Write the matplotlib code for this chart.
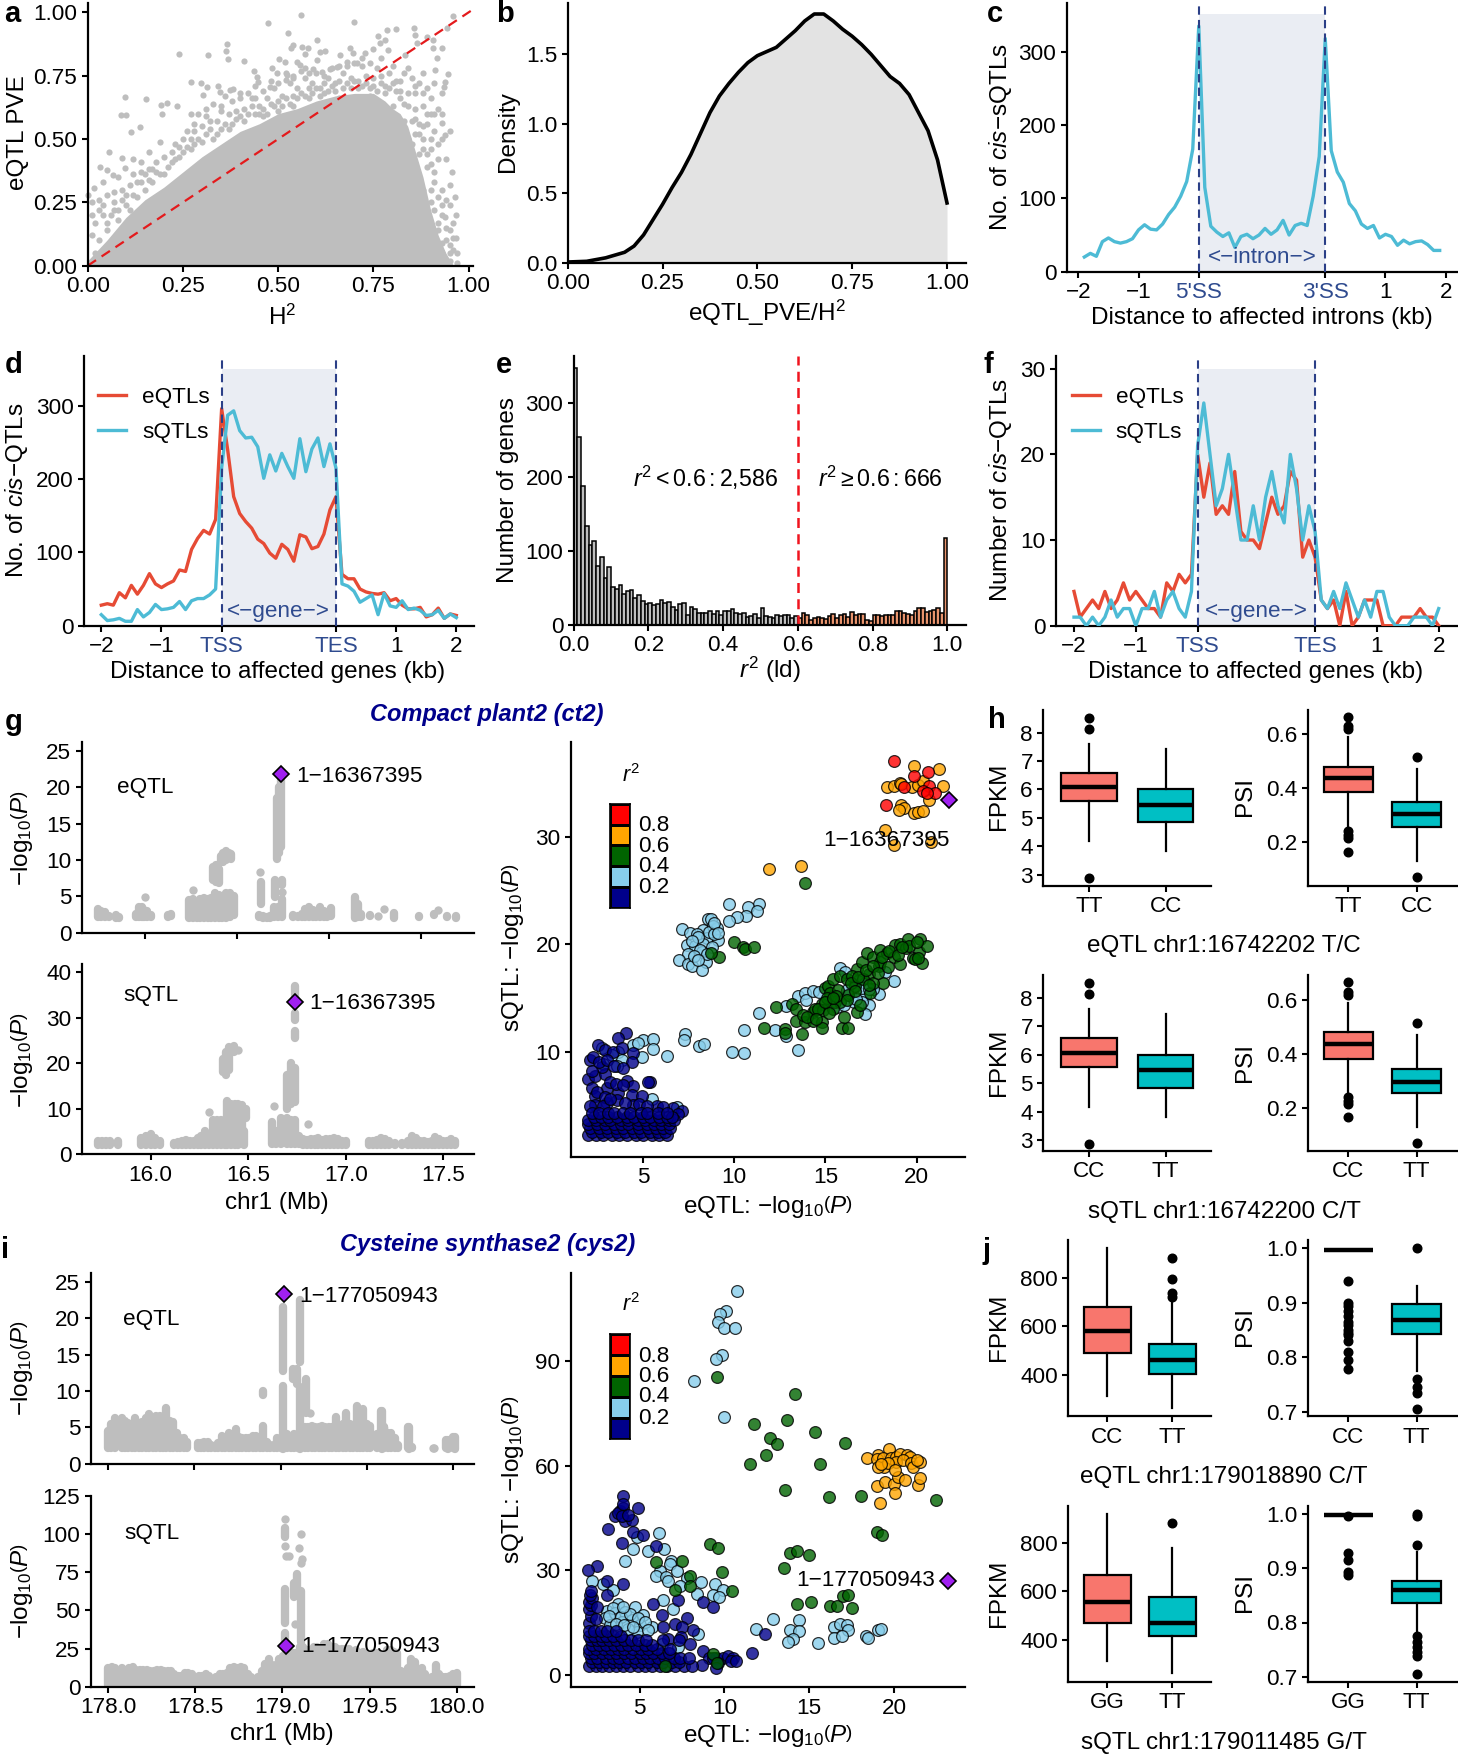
import matplotlib
matplotlib.use("Agg")
import matplotlib.pyplot as plt
import numpy as np
from matplotlib.colors import ListedColormap

plt.rcParams["font.family"] = ["Liberation Sans", "DejaVu Sans"]
plt.rcParams["mathtext.fontset"] = "custom"
plt.rcParams["mathtext.rm"] = "Liberation Sans"
plt.rcParams["mathtext.it"] = "Liberation Sans:italic"
plt.rcParams["mathtext.bf"] = "Liberation Sans:bold"
plt.rcParams["mathtext.default"] = "regular"

W, H = 1458, 1754
GREY = "#BEBEBE"
RED_LINE = "#E64B35"
BLUE_LINE = "#4DBBD5"
NAVY_TXT = "#2F4B8F"
NAVY_DASH = "#2B3F87"
SHADE = "#EAEDF3"
TICK_FS = 16.2
LAB_FS = 17.5

# ---- panel a: solid mass outline + sparse points
a_top_x = [0.0, 0.05, 0.1, 0.15, 0.2, 0.25, 0.3, 0.35, 0.4, 0.45, 0.5, 0.55, 0.6, 0.65, 0.7, 0.75, 0.78, 0.8, 0.82, 0.84, 0.86, 0.88, 0.9, 0.92, 0.94, 0.96]
a_top_y = [0.02, 0.1, 0.19, 0.26, 0.31, 0.37, 0.43, 0.48, 0.53, 0.56, 0.6, 0.62, 0.65, 0.67, 0.68, 0.68, 0.65, 0.62, 0.6, 0.55, 0.45, 0.35, 0.22, 0.12, 0.05, 0.0]
a_pts = [(.56,.99),(.474,.958),(.70,.96),(.96,.984),(.525,.917),(.785,.93),(.81,.934),(.857,.937),(.859,.91),(.763,.907),
    (.603,.89),(.366,.875),(.362,.847),(.368,.816),(.24,.835),(.317,.833),(.411,.807),(.502,.814),(.518,.803),(.54,.87),
    (.534,.858),(.562,.864),(.577,.86),(.57,.834),(.549,.803),(.557,.792),(.61,.845),(.623,.849),(.601,.812),(.689,.858),
    (.662,.832),(.697,.838),(.728,.838),(.748,.855),(.767,.878),(.78,.89),(.789,.851),(.833,.832),(.864,.878),(.89,.904),
    (.907,.89),(.907,.86),(.931,.86),(.942,.937),(.916,.818),(.912,.772),(.945,.757),(.938,.726),(.934,.707),(.929,.562),
    (.951,.532),(.938,.516),(.957,.368),(.964,.27),(.951,.239),(.967,.2),(.938,.193),(.967,.11),(.098,.667),(.152,.657),
    (.087,.595),(.10,.595),(.137,.549),(.114,.529),(.057,.45),(.032,.391),(.05,.378),(.089,.424),(.098,.384),(.017,.305),
    (.041,.332),(.002,.279),(.067,.358),(.08,.351),(.192,.634),(.207,.643),(.234,.632),(.196,.597),(.27,.724),(.297,.72),
    (.314,.704),(.302,.674),(.343,.709),(.347,.687),(.374,.693),(.382,.697),(.437,.768),(.444,.746),(.448,.724),(.479,.707),
    (.483,.779),(.496,.762),(.522,.753),(.52,.733),(.54,.749),(.57,.779),(.592,.775),(.614,.766),(.636,.776),(.654,.786),
    (.68,.805),(.706,.799),(.719,.818),(.01,.25),(.03,.26),(.05,.28),(.07,.29),(.09,.3),(.11,.32),(.12,.36),(.14,.37),
    (.16,.38),(.18,.41),(.2,.43),(.2,.36),(.22,.45),(.19,.49),(.16,.45),(.14,.41),(.12,.42),(.13,.33),(.17,.33),(.07,.22),
    (.04,.2),(.02,.17),(.05,.14),(.08,.18),(.1,.24),(.13,.27),(.15,.3),(.01,.12),(.03,.1),(.06,.06),(.02,.05),(.09,.12),
    (.25,.5),(.24,.47),(.26,.53),(.28,.56),(.27,.5),(.3,.55),(.32,.57),(.29,.6),(.31,.62),(.33,.64),(.35,.61),(.37,.6),
    (.34,.57),(.38,.65),(.4,.66),(.42,.68),(.44,.66),(.41,.62),(.39,.58),(.45,.63),(.47,.66),(.49,.7),(.51,.67),(.53,.72),
    (.55,.7),(.57,.74),(.59,.72),(.61,.7),(.63,.74),(.65,.72),(.67,.76),(.69,.74),(.71,.7),(.73,.75),(.75,.74),(.77,.72),
    (.79,.76),(.81,.73),(.83,.76),(.85,.74),(.87,.72),(.89,.7),(.91,.72),(.93,.68),(.46,.59),(.5,.61),(.54,.63),(.58,.66),
    (.62,.68),(.66,.66),(.7,.66),(.74,.67),(.78,.68),(.82,.69),(.86,.68),(.9,.66),(.92,.62),(.88,.63),(.84,.63),(.8,.63),
    (.76,.78),(.72,.79),(.68,.79),(.64,.78),(.6,.76),(.56,.77),(.52,.76),(.48,.73),(.44,.71),(.36,.67),(.27,.6),(.86,.58),
    (.89,.56),(.91,.53),(.88,.5),(.93,.5),(.9,.46),(.87,.44),(.92,.42),(.89,.39),(.86,.36),(.91,.33),(.93,.3),(.88,.3),
    (.9,.25),(.93,.24),(.87,.21),(.89,.17),(.92,.17),(.95,.14),(.91,.11),(.94,.1),(.96,.06),(.93,.05),(.9,.04),(.95,.02),
    (.97,.01),(.85,.48),(.84,.5),(.83,.57),(.87,.56)]
a_rim = [(.01,.2),(.03,.22),(.05,.17),(.07,.25),(.09,.26),(.11,.22),(.12,.28),(.14,.33),(.16,.34),(.17,.38),(.19,.36),(.21,.39),
    (.22,.41),(.23,.42),(.24,.43),(.25,.45),(.26,.47),(.27,.46),(.28,.48),(.29,.5),(.3,.49),(.31,.52),(.32,.54),(.33,.5),
    (.34,.52),(.35,.54),(.36,.56),(.37,.54),(.38,.56),(.39,.61),(.4,.59),(.41,.57),(.42,.6),(.43,.63),(.44,.6),(.45,.6),
    (.46,.62),(.47,.6),(.48,.64),(.49,.63),(.5,.65),(.51,.63),(.52,.66),(.53,.64),(.54,.67),(.55,.66),(.56,.68),(.57,.67),
    (.58,.7),(.59,.68),(.6,.7),(.61,.67),(.62,.72),(.63,.69),(.64,.71),(.65,.69),(.66,.73),(.67,.7),(.68,.72),(.69,.7),
    (.7,.73),(.71,.73),(.72,.71),(.73,.72),(.74,.7),(.75,.71),(.76,.69),(.77,.75),(.78,.71),(.79,.7),(.8,.72),(.81,.69),
    (.82,.66),(.83,.64),(.85,.57),(.86,.52),(.87,.52),(.88,.46),(.89,.44),(.9,.4),(.91,.37),(.9,.3),(.92,.27),(.91,.22),
    (.93,.2),(.92,.14),(.94,.15),(.93,.09),(.95,.08),(.96,.11),(.97,.05),(.95,.05),(.88,.68),(.9,.6),(.93,.6),(.86,.62),
    (.89,.6),(.84,.68),(.82,.73),(.86,.71),(.88,.76),(.84,.78),(.8,.79),(.77,.82),(.74,.8),(.7,.8),(.66,.79),(.62,.75),
    (.58,.76),(.54,.74),(.5,.72),(.46,.69),(.43,.66),(.4,.68),(.35,.63),(.31,.59),(.28,.53),(.23,.48),(.18,.37),(.15,.36),
    (.1,.28),(.06,.2),(.04,.24),(.08,.22),(.92,.48),(.94,.42),(.95,.32),(.94,.26),(.96,.17),(.9,.5),(.88,.55),(.91,.6)]

# ---- panel b
b_x = [0, .05, .1, .15, .175, .2, .225, .25, .275, .3, .325, .35, .375, .4, .425, .45, .475, .5, .525, .55, .575, .6, .625, .65, .675, .7, .725, .75, .775, .8, .825, .85, .875, .9, .925, .95, .975, 1]
b_y = [.005, .01, .035, .075, .12, .2, .31, .42, .54, .65, .78, .93, 1.08, 1.2, 1.29, 1.37, 1.44, 1.49, 1.52, 1.55, 1.61, 1.67, 1.74, 1.79, 1.79, 1.74, 1.68, 1.63, 1.57, 1.5, 1.42, 1.34, 1.29, 1.21, 1.08, .95, .74, .43]

# ---- panel c (x runs -1.9 .. 4.0, the intron takes 2.1 units)
c_y = [20, 25, 21, 41, 46, 41, 39, 41, 45, 57, 64, 58, 57, 65, 78, 88, 103, 123, 167, 335,
       115, 62, 54, 48, 53, 33, 48, 51, 45, 50, 59, 51, 57, 70, 50, 63, 66, 63, 103, 157, 318,
       165, 136, 122, 93, 83, 65, 59, 63, 46, 51, 48, 36, 43, 38, 41, 42, 37, 29, 29]

# ---- panel d (x runs -2 .. 3.9, gene takes 1.9 units)
d_e = [28, 30, 28, 45, 38, 55, 43, 55, 71, 57, 52, 57, 61, 76, 74, 104, 119, 130, 125, 145, 296,
       240, 176, 153, 142, 133, 118, 112, 99, 92, 111, 104, 88, 124, 121, 105, 108, 125, 158, 176,
       70, 64, 64, 50, 46, 44, 43, 45, 34, 37, 28, 23, 23, 25, 12, 15, 24, 10, 16, 14]
d_s = [15, 7, 8, 10, 6, 6, 22, 12, 18, 29, 22, 23, 25, 33, 22, 34, 37, 37, 42, 50, 215,
       287, 293, 266, 256, 257, 244, 201, 233, 211, 235, 217, 201, 255, 210, 241, 256, 217, 248, 215,
       57, 54, 47, 32, 37, 42, 15, 44, 27, 25, 34, 22, 24, 21, 14, 15, 21, 10, 16, 11]

# ---- panel e
e_left = [347, 254, 187, 133, 108, 113, 80, 92, 63, 78, 51, 48, 54, 42, 46, 47, 36, 40, 33, 28,
          30, 27, 29, 34, 30, 31, 24, 20, 29, 30, 13, 24, 22, 16, 16, 16, 19, 15, 19, 14,
          19, 19, 21, 16, 15, 16, 11, 12, 15, 10, 23, 12, 11, 9, 13, 12, 13, 14, 10, 12]
e_right = [10, 16, 13, 7, 9, 11, 10, 8, 12, 15, 10, 14, 15, 11, 18, 14, 15, 15, 7, 6,
           13, 13, 12, 14, 14, 14, 19, 19, 16, 15, 13, 19, 23, 23, 17, 19, 20, 23, 16, 118]

# ---- panel f
f_e = [4, 1, 2, 3, 2, 4, 2, 3, 5, 3, 4, 3, 2, 2, 1, 5, 4, 6, 5, 6, 20,
       15, 19, 13, 14, 13, 18, 11, 10, 10, 9, 12, 15, 13, 14, 18, 17, 8, 10, 8,
       3, 2, 3, 0, 4, 0, 1, 3, 3, 3, 0, 0, 0, 1, 1, 1, 2, 1, 1, 0]
f_s = [1, 1, 0, 1, 0, 1, 3, 1, 2, 2, 0, 2, 2, 4, 1, 3, 4, 2, 1, 4, 21,
       26, 20, 14, 16, 20, 15, 10, 10, 14, 10, 15, 18, 14, 12, 20, 16, 10, 14, 11,
       3, 2, 4, 2, 5, 3, 1, 3, 1, 4, 4, 1, 0, 0, 0, 1, 1, 1, 0, 2]

# ---- panel g locus plots: columns of merged dots (x, low, high)
g_e_x = [15.745, 15.76, 15.78, 15.80, 15.84, 15.855, 15.95, 15.965, 15.98, 15.995, 16.01, 16.03, 16.125, 16.14,
         16.24, 16.26, 16.28, 16.30, 16.32, 16.34, 16.36, 16.38, 16.40, 16.42, 16.44, 16.46, 16.48, 16.0, 16.26,
         16.37, 16.385, 16.40, 16.41, 16.425, 16.44, 16.455, 16.465, 16.63, 16.625, 16.705, 16.745, 16.745,
         16.62, 16.64, 16.66, 16.68, 16.70, 16.72, 16.745, 16.714, 16.728, 16.74,
         16.805, 16.83, 16.85, 16.87, 16.89, 16.91, 16.93, 16.95, 16.97, 16.99, 17.01,
         17.14, 17.155, 17.176, 17.22, 17.266, 17.30, 17.353, 17.49, 17.57, 17.59, 17.64, 17.69]
g_e_lo = [2.2, 2.2, 2.2, 2.2, 2.1, 2.1, 2.2, 2.2, 2.2, 2.2, 2.2, 2.2, 2.2, 2.3,
          2.1, 2.1, 2.1, 2.1, 2.1, 2.1, 2.1, 2.1, 2.1, 2.1, 2.1, 2.2, 2.4, 4.9, 5.9,
          7.3, 7.0, 6.8, 9.8, 9.8, 10.0, 10.3, 10.2, 3.9, 8.3, 4.9, 5.6, 6.6,
          2.2, 2.1, 2.1, 2.1, 2.2, 2.2, 2.2, 10.2, 11.0, 11.8,
          2.2, 2.2, 2.2, 2.2, 2.2, 2.2, 2.2, 2.2, 2.2, 2.2, 2.3,
          2.1, 2.2, 2.2, 2.3, 2.3, 3.3, 2.1, 2.2, 2.5, 3.1, 2.2, 2.1]
g_e_hi = [3.3, 3.0, 2.8, 2.3, 2.4, 2.2, 2.6, 3.5, 3.5, 3.2, 3.0, 2.5, 2.4, 2.6,
          4.5, 4.7, 4.0, 4.6, 4.8, 4.6, 4.8, 5.5, 5.2, 5.0, 5.5, 5.5, 5.0, 4.9, 5.9,
          9.0, 9.3, 8.8, 10.5, 11.0, 11.3, 11.0, 10.8, 7.0, 8.3, 7.2, 5.6, 7.2,
          2.4, 2.3, 2.2, 2.3, 3.6, 3.5, 4.6, 18.5, 20.0, 21.0,
          2.4, 2.3, 2.6, 3.3, 3.5, 3.2, 3.0, 3.6, 3.0, 2.8, 3.4,
          4.9, 4.0, 2.6, 2.4, 2.3, 3.3, 2.7, 2.3, 2.6, 3.1, 2.3, 2.3]
g_s_x = [15.73, 15.75, 15.77, 15.79, 15.83, 15.95, 15.975, 16.0, 16.02, 16.05,
         16.12, 16.14, 16.16, 16.18, 16.20, 16.22, 16.24, 16.26, 16.28, 16.30, 16.30,
         16.32, 16.34, 16.36, 16.38, 16.39, 16.41, 16.43, 16.45, 16.47, 16.49, 16.48,
         16.37, 16.385, 16.40, 16.425, 16.45, 16.70, 16.72, 16.74, 16.74, 16.74, 16.74,
         16.63, 16.807, 16.62, 16.64, 16.67, 16.70, 16.72, 16.74, 16.76,
         16.78, 16.80, 16.82, 16.84, 16.86, 16.88, 16.90, 16.92, 16.94, 16.96, 16.98, 17.0,
         17.12, 17.14, 17.16, 17.18, 17.20, 17.22, 17.25, 17.29, 17.32, 17.34, 17.36, 17.38, 17.40,
         17.42, 17.44, 17.46, 17.48, 17.50, 17.52, 17.54, 17.56]
g_s_lo = [2.1, 2.1, 2.1, 2.1, 2.1, 2.1, 2.1, 2.1, 2.1, 2.1,
          2.1, 2.1, 2.1, 2.1, 2.1, 2.1, 2.1, 2.1, 2.1, 2.1, 9.3,
          2.1, 2.1, 2.1, 2.1, 2.1, 2.1, 2.1, 2.1, 3.5, 8.0, 2.1,
          18.0, 17.5, 18.5, 22.5, 23.0, 10.0, 11.0, 11.5, 25.5, 29.5, 34.0,
          10.5, 6.7, 2.3, 2.3, 2.3, 2.3, 2.3, 2.3, 2.3,
          2.1, 2.1, 2.1, 2.1, 2.1, 2.1, 2.1, 2.1, 2.1, 2.1, 2.1, 2.1,
          2.1, 2.1, 2.1, 2.1, 2.1, 2.1, 2.1, 2.1, 2.1, 2.1, 2.1, 2.1, 2.1,
          2.1, 2.1, 2.1, 2.1, 2.1, 2.1, 2.1, 2.1]
g_s_hi = [3.0, 3.0, 3.0, 3.0, 2.9, 3.5, 4.0, 4.5, 3.5, 3.0,
          2.5, 2.6, 2.8, 3.2, 3.0, 3.0, 3.5, 4.0, 5.0, 3.5, 9.3,
          7.5, 7.5, 7.5, 7.5, 11.7, 11.0, 11.0, 11.0, 10.8, 10.0, 5.0,
          21.0, 22.5, 23.5, 23.8, 23.0, 17.5, 20.0, 19.0, 27.0, 31.0, 37.0,
          10.5, 6.7, 7.0, 5.0, 8.0, 8.0, 7.5, 7.5, 4.0,
          3.3, 3.2, 3.4, 3.3, 3.5, 3.2, 3.4, 3.3, 3.5, 3.3, 3.0, 2.8,
          3.0, 3.0, 3.2, 3.6, 3.4, 2.8, 2.4, 2.5, 3.0, 3.9, 3.5, 3.0, 2.8,
          2.6, 3.0, 3.8, 3.4, 3.0, 3.0, 3.4, 2.8]

# ---- panel g scatter
ct2_red = [(18.78, 37.08), (19.86, 35.64), (20.63, 36.06), (19.30, 34.62), (20.67, 34.68), (20.34, 34.26), (21.01, 34.10), (20.59, 34.04), (18.33, 32.95)]
ct2_orange = [(18.38, 34.65), (18.78, 34.71), (19.1, 35.0), (19.13, 34.9), (19.75, 34.58), (19.84, 36.54), (20.08, 34.81), (20.34, 35.16), (21.2, 36.31),
              (21.42, 34.68), (20.67, 33.37), (19.15, 32.92), (19.33, 32.63), (19.02, 32.44), (19.86, 32.18), (20.06, 32.28), (20.32, 32.37),
              (18.24, 30.64), (18.78, 29.2), (20.78, 29.55), (11.89, 26.96), (13.67, 27.24)]
ct2_green = [(13.9, 25.67), (9.97, 20.19), (10.47, 19.74), (10.59, 19.55), (11.09, 19.74), (9.19, 18.81), (8.71, 19.13),
             (12.29, 14.17), (11.62, 12.24), (12.79, 12.08), (12.79, 11.76), (13.7, 11.67), (13.17, 14.42), (13.39, 12.88), (13.39, 14.0), (13.88, 12.79),
             (14.34, 13.69), (14.34, 12.88), (14.8, 14.42), (14.8, 12.72), (14.8, 12.18), (14.98, 15.93), (15.16, 16.09), (15.44, 16.73), (15.26, 15.45),
             (15.53, 14.65), (15.07, 14.97), (15.9, 12.24), (16.21, 12.24), (16.02, 13.2), (15.8, 17.05), (16.17, 16.73), (16.72, 17.7), (16.63, 16.09),
             (16.21, 15.29), (16.72, 13.69), (16.9, 14.33), (17.36, 17.21), (17.0, 18.33), (17.3, 19.13), (17.63, 18.81), (17.91, 18.01), (18.0, 18.33),
             (18.0, 19.46), (18.36, 19.13), (18.73, 18.81), (19.1, 18.17), (18.18, 16.41), (18.82, 19.94), (19.1, 20.0), (19.42, 19.62), (19.55, 20.51),
             (20.19, 20.51), (20.1, 19.29), (20.56, 19.84), (19.79, 18.72), (20.28, 18.27), (17.45, 15.45), (15.71, 15.77), (15.8, 14.65), (16.44, 17.05),
             (17.08, 16.73), (17.63, 16.41), (14.43, 14.0), (13.79, 13.37), (14.89, 13.85), (15.44, 14.0),
             (14.0, 13.2), (14.6, 14.0), (15.2, 13.6), (15.6, 15.2), (16.4, 16.4), (16.8, 16.9), (17.2, 17.6), (17.6, 18.0), (18.1, 18.8), (18.5, 19.4),
             (19.0, 19.0), (19.6, 19.8), (20.0, 20.2), (17.9, 17.3), (18.4, 17.9), (16.2, 14.8), (16.6, 15.6), (15.0, 14.6), (15.4, 15.0), (14.5, 13.0),
             (17.4, 16.2), (19.2, 19.7), (19.9, 18.6), (20.05, 18.7)]
ct2_sky = [(9.73, 23.75), (11.38, 23.75), (10.78, 23.46), (11.27, 23.04), (10.65, 22.66), (10.16, 22.56), (9.7, 22.12), (8.56, 22.37), (8.71, 22.37),
           (7.16, 21.38), (7.58, 21.06), (8.31, 21.31), (9.04, 21.54), (8.82, 21.7), (7.94, 20.9), (8.49, 20.58), (9.13, 20.35), (7.39, 19.94), (7.85, 19.84),
           (8.31, 20.03), (8.77, 19.78), (7.49, 19.04), (8.22, 19.23), (6.97, 18.49), (7.49, 18.11), (7.67, 18.01), (8.46, 18.33), (8.24, 17.6),
           (8.0, 20.7), (8.6, 21.1), (8.9, 20.9), (7.7, 20.3), (8.1, 19.5), (8.5, 19.1), (7.8, 18.9), (8.0, 18.5), (8.9, 22.0), (9.1, 21.0),
           (11.34, 13.62), (10.54, 12.05), (12.22, 11.99), (12.82, 11.44), (13.52, 10.16), (12.84, 14.26), (13.5, 15.22), (13.88, 15.45), (13.94, 14.81),
           (14.31, 15.67), (14.62, 15.51), (15.8, 17.82), (16.08, 17.37), (16.81, 16.57), (17.18, 16.41), (16.54, 14.65), (17.18, 15.22), (17.39, 14.33),
           (17.18, 13.46), (17.91, 15.38), (18.73, 16.57), (16.35, 15.45), (15.62, 14.17), (15.99, 14.33), (18.27, 17.37), (16.99, 15.93),
           (16.5, 16.0), (16.2, 15.7), (17.6, 15.8), (17.0, 14.6), (16.7, 14.9), (17.4, 15.8),
           (7.32, 11.6), (7.25, 11.06), (8.05, 10.54), (8.35, 10.74), (9.9, 9.94), (10.54, 9.9), (6.3, 9.62),
           (5.02, 11.06), (5.57, 11.19), (4.47, 10.64), (4.74, 10.8), (5.53, 10.22), (4.93, 9.52), (3.65, 10.0), (3.28, 9.68), (3.83, 9.2), (3.55, 8.65),
           (2.73, 10.3), (2.82, 8.88), (5.48, 5.6), (6.85, 4.87)]
ct2_navy = [(4.07, 11.76), (3.65, 11.28), (2.55, 10.64), (2.09, 9.2), (2.28, 9.5), (2.9, 10.16), (3.37, 10.0), (3.83, 10.3), (4.47, 9.84), (4.38, 9.04),
            (2.0, 7.44), (2.37, 7.76), (2.92, 7.92), (2.73, 8.56), (4.1, 7.28), (5.38, 7.18), (5.25, 7.18), (4.47, 6.8), (2.18, 6.63), (3.0, 6.63), (3.65, 6.15),
            (4.38, 6.0), (4.93, 5.83), (2.37, 5.83), (2.37, 5.03), (3.55, 5.5), (3.0, 5.2), (4.47, 5.0), (5.75, 4.9), (6.66, 4.78), (7.12, 4.5),
            (2.5, 6.2), (2.9, 5.8), (3.2, 7.2), (3.5, 7.0), (2.2, 8.2), (2.6, 9.0), (3.0, 9.2), (3.4, 8.7), (3.9, 8.5), (3.9, 6.9), (2.1, 4.9), (2.8, 4.9),
            (3.2, 5.6), (4.0, 5.2), (4.8, 5.1), (5.2, 4.9), (6.1, 4.8), (6.9, 4.2)]
ct2_rows_y = [2.2, 2.55, 2.9, 3.25, 3.6, 3.95, 4.3]
ct2_rows_x = [[2.0, 2.4, 2.8, 3.3, 3.7, 4.1, 4.6, 5.0, 5.5, 5.9, 6.3],
              [2.2, 2.7, 3.1, 3.6, 4.0, 4.5, 4.9, 5.4, 5.8, 6.2],
              [2.1, 2.6, 3.0, 3.5, 3.9, 4.4, 4.8, 5.3, 5.7, 6.1, 6.5],
              [2.0, 2.5, 2.9, 3.4, 3.8, 4.2, 4.7, 5.2, 5.6, 6.0, 6.4],
              [2.0, 2.4, 2.9, 3.2, 3.8, 4.2, 4.7, 5.1, 5.6, 6.0, 6.4, 6.7],
              [2.3, 2.7, 3.1, 3.6, 4.1, 4.5, 5.0, 5.4, 5.9, 6.3, 6.6],
              [2.2, 2.6, 3.1, 3.4, 3.9, 4.3, 4.9, 5.2, 5.8, 6.3]]
ct2_diamond = (21.75, 33.4)

# ---- panel i locus plots, upper edge of the cloud per 20 kb bin (low edge ~2 / ~1)
i_bins = np.arange(178.0, 180.01, 0.02)
i_e_high = [4.5, 5.5, 6.3, 0, 6.3, 5.8, 5.6, 5.5, 6.3, 5.6, 5.7, 6.2, 6.8, 6.0, 6.5, 6.5, 6.0, 7.6, 5.8, 5.7,
            4.2, 3.5, 3.5, 3.0, 2.2, 0, 2.8, 2.8, 3.0, 3.0, 2.5, 2.4, 2.8, 3.8, 3.3, 4.2, 3.8, 4.8, 3.6, 3.5,
            3.5, 3.5, 3.8, 3.8, 3.0, 5.2, 3.0, 2.5, 2.5, 3.5, 3.5, 3.8, 4.0, 3.5, 4.0, 4.0, 5.0, 5.0, 5.0, 5.2,
            5.0, 5.0, 5.2, 5.0, 5.0, 5.0, 6.4, 5.2, 5.5, 7.0, 5.5, 5.3, 7.9, 5.5, 7.5, 5.5, 5.2, 0, 4.0, 7.2,
            5.0, 4.2, 4.2, 3.5, 2.5, 2.2, 2.2, 5.0, 2.3, 0, 0, 0, 0, 0, 2.1, 0, 0, 0, 3.2, 0, 3.6]
i_s_high = [12, 13, 12, 0, 12, 11, 12, 13, 11, 11, 11, 11, 10.5, 10.5, 11, 11, 10, 10, 10, 8,
            7, 7, 9, 9, 8, 4, 7, 7, 8, 7, 4, 6, 8, 8, 9, 12, 13, 12, 13, 12,
            8, 6, 5, 6, 10, 15, 18, 14, 14, 18, 20, 24, 18, 22, 22, 26, 26, 24, 24, 26,
            26, 25, 28, 28, 26, 26, 25, 25, 25, 25, 22, 24, 22, 23, 22, 21, 22, 22, 4, 21,
            24, 24, 23, 22, 10, 8, 12, 18, 16, 10, 12, 8, 4, 6, 14, 8, 6, 6, 7, 8, 9]
i_e_x = [179.015, 179.015, 179.113, 179.113, 179.074, 179.095, 179.15, 179.17, 178.21, 178.90, 179.585, 179.60, 179.745, 179.89, 179.97, 180.01]
i_e_lo = [2, 12.8, 2, 14, 11.7, 11, 7, 7, 10.2, 9.5, 2, 2.5, 2, 2.1, 2, 2]
i_e_hi = [10.7, 21.5, 10.5, 22.5, 13, 13, 11.7, 7, 10.3, 10, 7.2, 5, 5, 2.1, 3.2, 3.6]
i_s_x = [179.015, 179.015, 179.015, 179.015, 179.02, 179.04, 179.105, 179.095, 179.11, 179.085, 179.065, 179.105, 179.105, 179.07]
i_s_lo = [42, 98, 92, 110, 85.7, 85.7, 100, 91, 84, 65, 59, 29, 81, 41]
i_s_hi = [64, 104, 92, 110, 85.7, 85.7, 100, 91, 84, 74, 68, 63, 81, 41]
i_s_x = i_s_x + [179.015]
i_s_lo = i_s_lo + [29]
i_s_hi = i_s_hi + [35]

# ---- panel i scatter
cys_orange = [(18.42, 62.2), (19.03, 63.1), (19.7, 64.7), (18.97, 61.8), (19.36, 62.1), (19.42, 59.5), (19.07, 59.5), (19.85, 62.1), (20.1, 62.6), (20.38, 63.3),
              (20.74, 63.1), (20.93, 62.6), (20.1, 61.1), (19.66, 60.9), (20.54, 61.6), (21.03, 60.9), (21.13, 59.7), (21.52, 61.1), (21.33, 61.6), (18.97, 54.3),
              (19.46, 55.3), (19.99, 54.8), (20.25, 56.7), (20.64, 55.8), (20.07, 52.3), (19.16, 49.4), (21.42, 54.5), (21.56, 56.4), (20.05, 58.7), (19.26, 60.6)]
cys_green = [(9.54, 85.4), (14.17, 80.6), (13.66, 73.2), (11.74, 71.8), (15.35, 69.7), (12.66, 67.9), (13.07, 66.2), (17.1, 66.6), (12.43, 63.2), (11.52, 60.5),
             (15.61, 60.4), (13.55, 53.0), (16.14, 51.0), (18.03, 51.4), (22.45, 50.3), (19.0, 40.9), (19.3, 40.1), (9.15, 37.6), (9.64, 36.4), (13.84, 35.1),
             (14.27, 35.5), (14.98, 34.3), (13.49, 30.7), (7.51, 32.8), (5.94, 32.3), (9.83, 29.6), (7.97, 28.4), (7.97, 25.5), (7.08, 24.5), (10.42, 24.2),
             (14.27, 20.3), (15.1, 20.8), (16.22, 19.8), (16.61, 19.8), (17.0, 22.6), (17.3, 23.0), (17.51, 19.3), (9.34, 6.0), (9.54, 3.5), (6.5, 2.5)]
cys_sky = [(10.74, 110.0), (10.09, 104.3), (9.73, 103.6), (9.64, 101.2), (9.99, 99.6), (10.64, 99.4), (9.83, 91.8), (9.5, 90.6), (8.18, 84.2), (9.97, 73.9),
           (6.14, 40.8), (4.82, 39.6), (4.59, 36.2), (4.14, 32.8), (5.51, 35.5), (6.43, 36.2), (6.85, 32.8), (6.79, 31.8), (7.18, 29.9), (6.2, 29.9),
           (5.94, 28.4), (6.53, 28.1), (6.69, 26.8), (7.77, 27.9), (7.38, 25.5), (8.36, 23.3), (8.6, 26.7), (9.44, 26.0), (9.3, 23.0), (9.93, 24.5),
           (9.7, 22.3), (6.36, 21.6), (6.95, 18.9), (3.45, 24.5), (2.86, 26.0), (2.17, 27.0), (3.74, 20.3), (3.05, 18.4), (2.96, 16.2), (3.55, 17.7),
           (4.14, 18.2), (4.72, 19.6), (5.22, 17.2), (4.53, 15.7), (3.94, 15.2), (5.02, 14.3), (5.71, 13.8), (4.82, 12.3), (4.33, 13.3), (3.25, 14.3),
           (3.4, 19.2), (3.9, 16.6), (4.4, 17.4), (4.9, 16.4), (4.0, 19.4), (3.2, 16.8), (3.6, 14.6), (4.1, 14.2), (4.6, 13.9), (5.3, 15.3), (5.5, 13.0),
           (8.46, 11.8), (6.3, 8.9), (7.28, 7.9), (12.88, 16.1), (11.86, 13.3), (14.37, 15.9), (13.86, 12.8), (14.41, 12.7), (14.02, 10.4), (13.76, 9.4),
           (15.53, 9.3), (16.47, 13.8), (16.81, 14.5), (17.24, 14.3), (17.3, 12.8), (16.47, 10.5), (16.96, 11.1), (18.34, 11.3), (18.48, 10.5), (19.07, 12.8), (19.26, 13.1)]
cys_navy = [(4.04, 51.4), (3.55, 45.5), (3.84, 47.0), (4.04, 48.0), (4.92, 47.8), (4.14, 44.0), (4.53, 44.5), (3.15, 41.8), (4.63, 41.1), (5.18, 40.1), (3.94, 37.9),
            (5.94, 37.0), (4.04, 26.0), (2.47, 31.3), (1.97, 30.2), (3.05, 27.0), (3.05, 23.0), (5.81, 20.4), (7.28, 21.6), (8.75, 20.8), (9.34, 19.6), (6.3, 17.2),
            (7.77, 16.2), (7.08, 14.6), (7.48, 13.8), (6.36, 13.8), (8.12, 12.8), (6.69, 10.4), (7.42, 10.8), (7.97, 8.9), (8.75, 6.9), (12.39, 11.7), (11.64, 6.3),
            (2.0, 15.0), (2.1, 17.0), (2.0, 19.0), (2.15, 20.0), (2.0, 21.0), (2.2, 22.0), (2.05, 23.0), (2.15, 24.0), (2.4, 16.0), (2.5, 19.5),
            (3.7, 46.5), (3.95, 45.5), (4.3, 46.0), (4.0, 49.0),
            (9.1, 5.0), (9.5, 5.0), (9.9, 5.0), (10.2, 5.5), (10.5, 5.0), (9.3, 5.0), (9.6, 3.5), (10.4, 4.0), (10.7, 4.0), (8.7, 3.0), (9.5, 2.0)]
cys_rows_y = [2.5, 3.7, 5.0, 6.2, 7.5, 8.7, 10.0, 11.2, 12.5]
cys_rows_x = [[2.0, 2.4, 2.8, 3.2, 3.6, 4.0, 4.4, 4.9, 5.3, 5.7, 6.2, 6.6, 7.1, 7.6, 8.1],
              [2.2, 2.6, 3.0, 3.4, 3.8, 4.2, 4.7, 5.1, 5.5, 6.0, 6.4, 6.9, 7.3],
              [2.1, 2.5, 3.0, 3.4, 3.8, 4.3, 4.7, 5.2, 5.6, 6.1, 6.5, 7.0, 7.4, 7.9],
              [2.0, 2.3, 2.8, 3.2, 3.6, 4.1, 4.5, 5.0, 5.4, 5.8, 6.3, 6.7],
              [2.0, 2.4, 2.9, 3.3, 3.7, 4.1, 4.6, 5.1, 5.5, 6.0, 6.8],
              [2.2, 2.6, 3.0, 3.5, 3.9, 4.3, 4.8, 5.3, 5.7],
              [2.1, 2.5, 2.8, 3.2, 3.6, 4.1, 4.5, 4.9, 5.4, 6.4, 7.3],
              [2.0, 2.3, 2.7, 3.0, 3.4, 3.9],
              [2.0, 2.3, 2.7, 3.1, 3.6]]
cys_diamond = (23.2, 27.0)

# ---- box plots: q1, median, q3, whisker low, whisker high, outliers
h_fpkm1 = [(5.58, 6.08, 6.58, 4.17, 7.6, [2.87, 8.13, 8.52]), (4.87, 5.45, 6.0, 3.83, 7.42, [])]
h_psi1 = [(.385, .44, .48, .25, .59, [.665, .63, .62, .24, .225, .215, .165]), (.255, .305, .35, .13, .47, [.515, .07])]
h_fpkm2 = [(5.57, 6.05, 6.58, 4.17, 7.6, [2.87, 8.13, 8.52]), (4.83, 5.45, 6.0, 3.83, 7.42, [])]
h_psi2 = [(.38, .435, .48, .25, .59, [.665, .63, .62, .24, .225, .215, .165]), (.255, .295, .345, .13, .47, [.515, .07])]
j_fpkm1 = [(490, 582, 677, 312, 920, []), (403, 460, 527, 263, 700, [880, 792, 735, 722])]
j_psi1 = [(.997, .997, .997, .997, .997, [.94, .90, .895, .885, .875, .865, .86, .85, .845, .84, .83, .81, .795, .778]),
          (.843, .868, .897, .775, .93, [1.0, .76, .745, .735, .705])]
j_fpkm2 = [(472, 558, 667, 312, 920, []), (415, 470, 578, 263, 780, [880])]
j_psi2 = [(.997, .997, .997, .997, .997, [.995, .928, .915, .892, .887]),
          (.836, .86, .877, .78, .93, [1.0, .995, .942, .775, .765, .755, .745, .738, .705])]

r2_colors = ["#00008B", "#87CEEB", "#006400", "#FFA500", "#FF0000"]
r2_ticks = ["0.8", "0.6", "0.4", "0.2"]

fig = plt.figure(figsize=(W / 100, H / 100), dpi=100)


def make_ax(xr, yr, xcal, ycal):
    # xr/yr are pixel extents, xcal/ycal = (value, pixel, value, pixel) from two ticks
    l, r = xr
    b, t = yr
    ax = fig.add_axes([l / W, 1 - b / H, (r - l) / W, (b - t) / H])
    fx = lambda p: xcal[0] + (p - xcal[1]) * (xcal[2] - xcal[0]) / (xcal[3] - xcal[1])
    fy = lambda p: ycal[0] + (p - ycal[1]) * (ycal[2] - ycal[0]) / (ycal[3] - ycal[1])
    ax.set_xlim(fx(l), fx(r))
    ax.set_ylim(fy(b), fy(t))
    ax.spines[["top", "right"]].set_visible(False)
    ax.spines[["left", "bottom"]].set_linewidth(1.6)
    ax.tick_params(width=1.5, length=4.5, labelsize=TICK_FS, pad=3)
    ax.patch.set_alpha(0)
    return ax


def txt(px, py, s, fs=LAB_FS, rot=0, ha="center", va="center", **kw):
    fig.text(px / W, 1 - py / H, s, fontsize=fs, rotation=rot, ha=ha, va=va, **kw)


def columns(ax, xs, lo, hi, lw=6):
    xs, lo, hi = np.asarray(xs), np.broadcast_to(lo, np.shape(xs)), np.asarray(hi)
    solo = lo == hi
    ax.vlines(xs[~solo], lo[~solo], hi[~solo], colors=GREY, lw=lw, capstyle="round", zorder=2)
    ax.scatter(xs[solo], hi[solo], s=lw * lw, c=GREY, lw=0, zorder=2)


def region_axis(ax, width, names, top):
    ax.axvspan(0, width, ymin=0, ymax=top, color=SHADE, lw=0, zorder=0)
    ax.set_xticks([-2, -1, 0, width, width + 1, width + 2])
    ax.set_xticklabels(["\u22122", "\u22121", names[0], names[1], "1", "2"])
    for i in (2, 3):
        ax.get_xticklabels()[i].set_color(NAVY_TXT)


def dashes(ax, width):
    for v in (0, width):
        ax.axvline(v, color=NAVY_DASH, lw=1.5, ls=(0, (4, 2.5)), zorder=5)


def legend(ax, x):
    ax.legend(loc="upper left", bbox_to_anchor=(x, 0.885), frameon=False, fontsize=TICK_FS,
              handlelength=1.25, labelspacing=0.62, handletextpad=0.7, borderaxespad=0, borderpad=0)


def boxes(ax, stats, ticks, w):
    bx = [dict(q1=s[0], med=s[1], q3=s[2], whislo=s[3], whishi=s[4], fliers=s[5]) for s in stats]
    art = ax.bxp(bx, positions=[1, 2], widths=w, patch_artist=True, showcaps=False,
                 boxprops=dict(edgecolor="black", linewidth=1.6),
                 whiskerprops=dict(color="black", linewidth=1.6),
                 medianprops=dict(color="black", linewidth=3.2, solid_capstyle="butt"),
                 flierprops=dict(marker="o", markerfacecolor="black", markeredgecolor="black", markersize=6.2))
    for patch, col in zip(art["boxes"], ["#F8766D", "#00BFC4"]):
        patch.set_facecolor(col)
    ax.set_xticks([1, 2])
    ax.set_xticklabels(ticks)


def scatter_r2(ax, sky, navy, green, orange, red):
    for pts, col in ((sky, r2_colors[1]), (navy, r2_colors[0]), (green, r2_colors[2]), (orange, r2_colors[3]), (red, r2_colors[4])):
        if pts:
            p = np.array(pts)
            ax.scatter(p[:, 0], p[:, 1], s=72, c=col, alpha=0.8, edgecolors="black", linewidths=0.9, zorder=3)


def r2_key(l, r, t, b, title_y, lab_ys):
    cax = fig.add_axes([l / W, 1 - b / H, (r - l) / W, (b - t) / H])
    cax.pcolormesh(np.arange(5).reshape(5, 1), cmap=ListedColormap(r2_colors), edgecolors="black", linewidth=0.8)
    cax.set_xticks([])
    cax.set_yticks([])
    for s in cax.spines.values():
        s.set_linewidth(1.2)
    txt(631, title_y, r"$\mathit{r}^{2}$", fs=15.5)
    for lab, y in zip(r2_ticks, lab_ys):
        txt(638, y, lab, fs=TICK_FS, ha="left")


def row_points(rows_y, rows_x):
    return [(x, y) for y, xs in zip(rows_y, rows_x) for x in xs]


DIAMOND = dict(marker="D", ms=8.5, mfc="#A020F0", mec="black", mew=1.2, zorder=5, ls="none")

# a
ax = make_ax((87.7, 473), (265.7, 2.7), (0, 87.7, 1, 468.7), (0, 265.7, 1, 12.3))
ax.fill_between(a_top_x, 0, a_top_y, color=GREY, lw=0)
ap = np.array(a_pts + a_rim)
ax.scatter(ap[:, 0], ap[:, 1], s=20, c=GREY, lw=0, clip_on=False)
ax.plot([0, 1.013], [0, 1.013], color="#E41A1C", lw=1.6, ls=(0, (4.5, 3)))
ax.set_xticks([0, .25, .5, .75, 1])
ax.set_xticklabels(["0.00", "0.25", "0.50", "0.75", "1.00"])
ax.set_yticks([0, .25, .5, .75, 1])
ax.set_yticklabels(["0.00", "0.25", "0.50", "0.75", "1.00"])
txt(18, 133, "eQTL PVE", rot=90)
txt(282, 317, r"H$^{2}$")

# b
ax = make_ax((567.7, 965.7), (262.7, 2.7), (0, 567.7, 1, 947), (0, 262.7, 1.5, 54.3))
ax.fill_between(b_x, 0, b_y, color="#E3E3E3", lw=0)
ax.plot(b_x, b_y, color="black", lw=2.6)
ax.set_xticks([0, .25, .5, .75, 1])
ax.set_xticklabels(["0.00", "0.25", "0.50", "0.75", "1.00"])
ax.set_yticks([0, .5, 1, 1.5])
ax.set_yticklabels(["0.0", "0.5", "1.0", "1.5"])
txt(508, 132, "Density", rot=90)
txt(767, 313, r"eQTL_PVE/H$^{2}$")

# c
ax = make_ax((1066.7, 1456.7), (271.7, 2.7), (-2, 1078.3, 4.1, 1445.7), (0, 271.7, 300, 51.7))
region_axis(ax, 2.1, ("5'SS", "3'SS"), 350 / 366)
ax.plot(np.arange(len(c_y)) * 0.1 - 1.9, c_y, color=BLUE_LINE, lw=2.4, zorder=3)
dashes(ax, 2.1)
ax.set_yticks([0, 100, 200, 300])
ax.text(1.05, 19, "<\u2212intron\u2212>", color=NAVY_TXT, fontsize=TICK_FS, ha="center", va="center", zorder=6)
txt(1000, 137, "No. of $\\mathit{cis}$\u2212sQTLs", rot=90)
txt(1262, 318, "Distance to affected introns (kb)")

# d
ax = make_ax((84, 474), (625.7, 355.7), (-2, 101.3, 3.9, 456.3), (0, 625.7, 300, 405.7))
region_axis(ax, 1.9, ("TSS", "TES"), 350 / 368)
xd = np.arange(len(d_e)) * 0.1 - 2
ax.plot(xd, d_e, color=RED_LINE, lw=2.4, label="eQTLs", zorder=3)
ax.plot(xd, d_s, color=BLUE_LINE, lw=2.4, label="sQTLs", zorder=4)
dashes(ax, 1.9)
ax.set_yticks([0, 100, 200, 300])
ax.text(0.95, 19, "<\u2212gene\u2212>", color=NAVY_TXT, fontsize=TICK_FS, ha="center", va="center", zorder=6)
legend(ax, 0.036)
txt(17, 490, "No. of $\\mathit{cis}$\u2212QTLs", rot=90)
txt(278, 672, "Distance to affected genes (kb)")

# e
ax = make_ax((573.7, 965.7), (625, 355.7), (0, 573.7, 1, 947.3), (0, 625, 300, 402.7))
x_left = np.arange(len(e_left)) * 0.01
x_right = 0.6 + np.arange(len(e_right)) * 0.01
ax.bar(x_left, e_left, width=0.01, align="edge", color=GREY, edgecolor="black", lw=1.1)
ax.bar(x_right, e_right, width=0.01, align="edge", color="#E8936C", edgecolor="black", lw=1.1)
ax.axvline(0.6, color="#F0141E", lw=1.8, ls=(0, (4, 2.5)))
ax.set_xticks([0, .2, .4, .6, .8, 1])
ax.set_xticklabels(["0.0", "0.2", "0.4", "0.6", "0.8", "1.0"])
ax.set_yticks([0, 100, 200, 300])
txt(705, 478, r"$\mathit{r}^{2}<0.6:2{,}586$", fs=TICK_FS + 0.5)
txt(880, 479, r"$\mathit{r}^{2}\geq 0.6:666$", fs=TICK_FS + 0.5)
txt(508, 490, "Number of genes", rot=90)
txt(770, 670, r"$\mathit{r}^{2}$ (ld)")

# f
ax = make_ax((1055.7, 1456.7), (625.7, 355.7), (-2, 1074, 3.9, 1438.7), (0, 625.7, 30, 368.7))
region_axis(ax, 1.9, ("TSS", "TES"), 30 / 31.5)
xf = np.arange(len(f_e)) * 0.1 - 2
ax.plot(xf, f_e, color=RED_LINE, lw=2.4, label="eQTLs", zorder=3)
ax.plot(xf, f_s, color=BLUE_LINE, lw=2.4, label="sQTLs", zorder=4)
dashes(ax, 1.9)
ax.set_yticks([0, 10, 20, 30])
ax.text(0.95, 1.65, "<\u2212gene\u2212>", color=NAVY_TXT, fontsize=TICK_FS, ha="center", va="center", zorder=6)
legend(ax, 0.04)
txt(1000, 490, "Number of $\\mathit{cis}$\u2212QTLs", rot=90)
txt(1256, 672, "Distance to affected genes (kb)")

# titles
txt(487, 714, "Compact plant2 (ct2)", fs=17, color="#00008B", fontweight="bold", fontstyle="italic")
txt(488, 1245, "Cysteine synthase2 (cys2)", fs=17, color="#00008B", fontweight="bold", fontstyle="italic")

# g locus
LOG_P = r"$-\mathrm{log}_{10}\left(\mathit{P}\right)$"
ax = make_ax((81.7, 474), (932.8, 742.4), (16, 145.3, 17.5, 421), (0, 932.8, 25, 751))
columns(ax, g_e_x, g_e_lo, g_e_hi)
ax.plot([16.741], [21.8], **DIAMOND)
ax.set_xticks([16, 16.5, 17, 17.5])
ax.set_xticklabels([])
ax.set_yticks([0, 5, 10, 15, 20, 25])
txt(117, 788, "eQTL", fs=TICK_FS, ha="left")
txt(296, 776, "1\u221216367395", fs=TICK_FS, ha="left")
txt(22, 838, LOG_P, rot=90)

ax = make_ax((81.7, 474), (1154.2, 964.5), (16, 150.7, 17.5, 443.3), (0, 1154.2, 40, 972.4))
columns(ax, g_s_x, g_s_lo, g_s_hi)
ax.plot([16.739], [33.4], **DIAMOND)
ax.set_xticks([16, 16.5, 17, 17.5])
ax.set_xticklabels(["16.0", "16.5", "17.0", "17.5"])
ax.set_yticks([0, 10, 20, 30, 40])
txt(123, 996, "sQTL", fs=TICK_FS, ha="left")
txt(309, 1003, "1\u221216367395", fs=TICK_FS, ha="left")
txt(22, 1060, LOG_P, rot=90)
txt(277, 1203, "chr1 (Mb)")

# g scatter
ax = make_ax((571, 965), (1156.7, 742.4), (5, 643, 20, 916.7), (10, 1051.6, 30, 836.7))
scatter_r2(ax, ct2_sky, ct2_navy + row_points(ct2_rows_y, ct2_rows_x), ct2_green, ct2_orange, ct2_red)
ax.plot([ct2_diamond[0]], [ct2_diamond[1]], **DIAMOND)
ax.set_xticks([5, 10, 15, 20])
ax.set_yticks([10, 20, 30])
r2_key(610, 630, 803.7, 908, 776, [825.4, 846, 866.7, 887.3])
txt(823, 841, "1\u221216367395", fs=TICK_FS, ha="left", zorder=6)
txt(513, 948, r"sQTL: $-\mathrm{log}_{10}\left(\mathit{P}\right)$", rot=90)
txt(768, 1207, r"eQTL: $-\mathrm{log}_{10}\left(\mathit{P}\right)$")

# h
for yr, f_cal, p_cal, fp, pp, names, cy in [
    ((885.6, 710), (3, 874.6, 8, 732.7), (.2, 842.2, .6, 734.4), h_fpkm1, h_psi1, ["TT", "CC"], 796),
    ((1150.8, 975.2), (3, 1140.2, 8, 997.9), (.2, 1107.7, .6, 1000), h_fpkm2, h_psi2, ["CC", "TT"], 1062)]:
    ax = make_ax((1043.3, 1211.3), yr, (1, 1089, 2, 1165.7), f_cal)
    boxes(ax, fp, names, 0.72)
    ax.set_yticks([3, 4, 5, 6, 7, 8])
    ax = make_ax((1308, 1456.7), yr, (1, 1348.3, 2, 1416.7), p_cal)
    boxes(ax, pp, names, 0.71)
    ax.set_yticks([.2, .4, .6])
    ax.set_yticklabels(["0.2", "0.4", "0.6"])
    txt(999, cy, "FPKM", rot=90)
    txt(1245, cy, "PSI", rot=90)
txt(1224, 946, "eQTL chr1:16742202 T/C")
txt(1224, 1212, "sQTL chr1:16742200 C/T")

# i locus
ax = make_ax((90.7, 474), (1463.5, 1272.8), (178, 107.7, 180, 453.3), (0, 1463.5, 25, 1282))
keep = np.array(i_e_high) > 0
columns(ax, i_bins[keep], 2.1, np.array(i_e_high)[keep])
columns(ax, i_e_x, i_e_lo, i_e_hi)
ax.plot([179.02], [23.3], **DIAMOND)
ax.set_xticks([178, 178.5, 179, 179.5, 180])
ax.set_xticklabels([])
ax.set_yticks([0, 5, 10, 15, 20, 25])
txt(123, 1319, "eQTL", fs=TICK_FS, ha="left")
txt(299, 1296, "1\u2212177050943", fs=TICK_FS, ha="left")
txt(22, 1368, LOG_P, rot=90)

ax = make_ax((90.7, 474), (1686.6, 1496.2), (178, 108.3, 180, 456.7), (0, 1686.6, 125, 1496.2))
keep = np.array(i_s_high) > 0
columns(ax, i_bins[keep], 1.0, np.array(i_s_high)[keep])
columns(ax, i_s_x, i_s_lo, i_s_hi)
ax.plot([179.02], [26.8], **DIAMOND)
ax.set_xticks([178, 178.5, 179, 179.5, 180])
ax.set_xticklabels(["178.0", "178.5", "179.0", "179.5", "180.0"])
ax.set_yticks([0, 25, 50, 75, 100, 125])
txt(124, 1534, "sQTL", fs=TICK_FS, ha="left")
txt(301.7, 1646, "1\u2212177050943", fs=TICK_FS, ha="left", zorder=6)
txt(22, 1591, LOG_P, rot=90)
txt(282, 1734, "chr1 (Mb)")

# i scatter
ax = make_ax((571, 965), (1687.2, 1272.8), (5, 639.7, 20, 894), (0, 1675, 90, 1361))
scatter_r2(ax, cys_sky, cys_navy + row_points(cys_rows_y, cys_rows_x), cys_green, cys_orange, [])
ax.plot([cys_diamond[0]], [cys_diamond[1]], **DIAMOND)
ax.set_xticks([5, 10, 15, 20])
ax.set_yticks([0, 30, 60, 90])
r2_key(610, 630, 1334.4, 1438.6, 1305, [1356, 1376, 1397, 1418])
txt(796.7, 1581, "1\u2212177050943", fs=TICK_FS, ha="left", zorder=6)
txt(513, 1480, r"sQTL: $-\mathrm{log}_{10}\left(\mathit{P}\right)$", rot=90)
txt(768, 1736, r"eQTL: $-\mathrm{log}_{10}\left(\mathit{P}\right)$")

# j
for yr, f_cal, p_cal, fp, pp, names, cy in [
    ((1416.2, 1240.4), (400, 1375, 800, 1277.5), (.7, 1411.8, 1.0, 1248.3), j_fpkm1, j_psi1, ["CC", "TT"], 1327),
    ((1681.8, 1506.1), (400, 1640, 800, 1542.9), (.7, 1677, 1.0, 1513.5), j_fpkm2, j_psi2, ["GG", "TT"], 1593)]:
    ax = make_ax((1068.3, 1211.3), yr, (1, 1107.3, 2, 1172.3), f_cal)
    boxes(ax, fp, names, 0.72)
    ax.set_yticks([400, 600, 800])
    ax = make_ax((1308, 1456.7), yr, (1, 1348.3, 2, 1416.7), p_cal)
    boxes(ax, pp, names, 0.71)
    ax.set_yticks([.7, .8, .9, 1.0])
    ax.set_yticklabels(["0.7", "0.8", "0.9", "1.0"])
    txt(999, cy, "FPKM", rot=90)
    txt(1245, cy, "PSI", rot=90)
txt(1224, 1477, "eQTL chr1:179018890 C/T")
txt(1224, 1743, "sQTL chr1:179011485 G/T")

# panel letters
for s, px, py in [("a", 4, 14), ("b", 496, 14), ("c", 987, 14), ("d", 5, 365), ("e", 496, 365), ("f", 984, 365),
                  ("g", 5, 722), ("h", 988, 720), ("i", 1, 1250), ("j", 983, 1251)]:
    txt(px, py, s, fs=21, ha="left", fontweight="bold")

fig.savefig("out.png", dpi=100)
